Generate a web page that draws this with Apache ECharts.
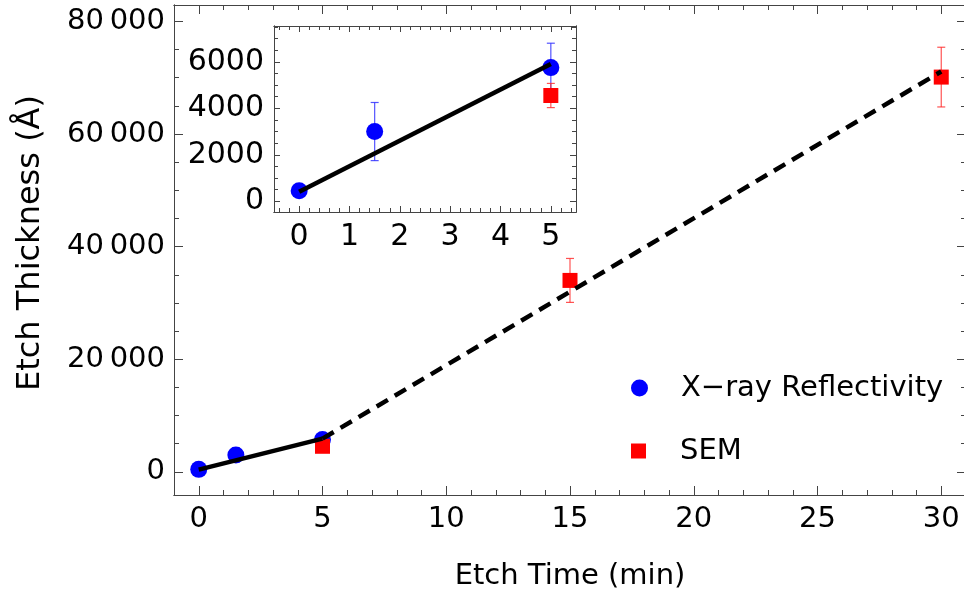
<!DOCTYPE html>
<html>
<head>
<meta charset="utf-8">
<script src="https://cdn.jsdelivr.net/npm/echarts@6.0.0/dist/echarts.min.js"></script>
<style>
html,body{margin:0;padding:0;background:#fff;}
#chart{width:964px;height:592px;}
</style>
</head>
<body>
<div id="chart"></div>
<script>
// ---- data ----
const xrayTime = [0, 1.5, 5];
const xrayThick = [450, 3000, 5750];
const xrayErr = [150, 1250, 1050];

const semTime = [5, 15, 30];
const semThick = [4550, 34000, 70100];
const semErr = [520, 3900, 5300];

const fitTime = [0, 5];
const fitThick = [410, 5910];
const extTime = [5, 30];
const extThick = [5910, 71100];

// ---- tick labels ----
const mainXTicks = [0, 5, 10, 15, 20, 25, 30];
const mainYTicks = [0, 20000, 40000, 60000, 80000];
const insetXTicks = [0, 1, 2, 3, 4, 5];
const insetYTicks = [0, 2000, 4000, 6000];

function minorTicks(lo, hi, step, majors) {
  const out = [];
  for (let v = lo; v <= hi + 1e-9; v += step) {
    const r = Math.round(v * 1000) / 1000;
    if (majors.indexOf(r) < 0) out.push(r);
  }
  return out;
}
const mainXMinor = minorTicks(-1, 31, 1, mainXTicks);
const mainYMinor = minorTicks(0, 80000, 5000, mainYTicks);
const insetXMinor = minorTicks(-0.4, 5.4, 0.2, insetXTicks);
const insetYMinor = minorTicks(0, 7500, 500, insetYTicks);

const FONT = 'DejaVu Sans';
const FS = 29;
const FRAME = '#444';

function fmtThousands(v) {
  const s = String(Math.round(v));
  if (s.length < 5) return s;
  return s.replace(/\B(?=(\d{3})+(?!\d))/g, '\u2009');
}

function pairs(xs, ys) { return xs.map((x, i) => [x, ys[i]]); }
function errData(xs, ys, es, maxX) {
  const out = [];
  xs.forEach((x, i) => { if (x <= maxX) out.push([x, ys[i] - es[i], ys[i] + es[i]]); });
  return out;
}

function makeAxes(gridIndex, min, max, majors, minors, posA, posB, majLen, minLen, labelMargin, labelSize, extra) {
  const base = {
    type: 'value', gridIndex: gridIndex, min: min, max: max,
    splitLine: { show: false },
    axisLine: { show: true, onZero: false, lineStyle: { color: FRAME, width: 1 } },
    axisPointer: { show: false }
  };
  const tick = (len, vals) => ({ show: true, inside: true, length: len, customValues: vals, lineStyle: { color: FRAME, width: 1 } });
  const axes = [];
  axes.push(Object.assign({}, base, {
    position: posA,
    axisTick: tick(majLen, majors),
    axisLabel: { show: true, customValues: majors, margin: labelMargin, color: '#000', fontFamily: FONT, fontSize: labelSize,
      formatter: fmtThousands }
  }, extra || {}));
  axes.push(Object.assign({}, base, { position: posA, axisTick: tick(minLen, minors), axisLabel: { show: false } }));
  axes.push(Object.assign({}, base, { position: posB, axisTick: tick(majLen, majors), axisLabel: { show: false } }));
  axes.push(Object.assign({}, base, { position: posB, axisTick: tick(minLen, minors), axisLabel: { show: false } }));
  return axes;
}

const xAxes = [].concat(
  makeAxes(0, -1, 31, mainXTicks, mainXMinor, 'bottom', 'top', 9, 5, 10, FS, {
    name: 'Etch Time (min)', nameLocation: 'middle', nameGap: 67,
    nameTextStyle: { color: '#000', fontFamily: FONT, fontSize: FS }
  }),
  makeAxes(1, -0.5, 5.5, insetXTicks, insetXMinor, 'bottom', 'top', 6, 4, 10, 30)
);
const yAxes = [].concat(
  makeAxes(0, -4100, 82900, mainYTicks, mainYMinor, 'left', 'right', 9, 5, 9, FS),
  makeAxes(1, -460, 7540, insetYTicks, insetYMinor, 'left', 'right', 6, 4, 10, 30)
);

function errSeries(name, xi, yi, data, color) {
  return {
    type: 'custom', name: name, xAxisIndex: xi, yAxisIndex: yi, clip: true,
    encode: { x: 0, y: [1, 2] }, data: data, silent: true,
    renderItem: function (params, api) {
      const x = api.value(0);
      const lo = api.coord([x, api.value(1)]);
      const hi = api.coord([x, api.value(2)]);
      const w = 4;
      const st = { stroke: color, lineWidth: 1.2 };
      return {
        type: 'group', children: [
          { type: 'line', shape: { x1: lo[0], y1: lo[1], x2: hi[0], y2: hi[1] }, style: st },
          { type: 'line', shape: { x1: lo[0] - w, y1: lo[1], x2: lo[0] + w, y2: lo[1] }, style: st },
          { type: 'line', shape: { x1: hi[0] - w, y1: hi[1], x2: hi[0] + w, y2: hi[1] }, style: st }
        ]
      };
    }
  };
}

const XRAY = 'X\u2212ray Reflectivity';
const SEM = 'SEM';
const BLUE = '#0000ff';
const RED = '#ff0000';
const SQUARE = 'path://M0 0H10V10H0Z';

function plotSeries(xi, yi, maxX, withExt) {
  const s = [];
  s.push(errSeries('xerr' + xi, xi, yi, errData(xrayTime, xrayThick, xrayErr, maxX), 'rgba(40,40,255,0.8)'));
  s.push(errSeries('serr' + xi, xi, yi, errData(semTime, semThick, semErr, maxX), 'rgba(255,40,40,0.8)'));
  s.push({ type: 'scatter', name: XRAY, xAxisIndex: xi, yAxisIndex: yi, symbol: 'circle', symbolSize: 17,
    itemStyle: { color: BLUE, opacity: 1 }, data: pairs(xrayTime, xrayThick), silent: true });
  s.push({ type: 'scatter', name: SEM, xAxisIndex: xi, yAxisIndex: yi, symbol: 'rect', symbolSize: 15,
    itemStyle: { color: RED, opacity: 1 }, data: pairs(semTime, semThick), silent: true });
  s.push({ type: 'line', name: 'fit' + xi, xAxisIndex: xi, yAxisIndex: yi, symbol: 'none', silent: true,
    lineStyle: { color: '#000', width: 4.5, cap: 'butt' }, data: pairs(fitTime, fitThick) });
  if (withExt) {
    s.push({ type: 'line', name: 'ext' + xi, xAxisIndex: xi, yAxisIndex: yi, symbol: 'none', silent: true,
      lineStyle: { color: '#000', width: 4.5, type: [13, 8] }, data: pairs(extTime, extThick) });
  }
  return s;
}

const series = [].concat(plotSeries(0, 0, 100, true), plotSeries(4, 4, 5.5, false));

const legendText = { color: '#000', fontFamily: FONT, fontSize: FS, lineHeight: 34, width: 265, overflow: 'none' };
const option = {
  animation: false,
  backgroundColor: '#fff',
  grid: [
    { left: 174, top: 5, width: 792, height: 490, outerBoundsMode: 'none', containLabel: false },
    { left: 274, top: 26, width: 302, height: 186, outerBoundsMode: 'none', containLabel: false,
      show: true, backgroundColor: '#fff', borderWidth: 0 }
  ],
  xAxis: xAxes,
  yAxis: yAxes,
  legend: [
    { data: [{ name: XRAY, icon: 'circle' }], left: 631, top: 371, itemWidth: 73, itemHeight: 17, padding: 0,
      selectedMode: false, textStyle: legendText },
    { data: [{ name: SEM, icon: SQUARE }], left: 631, top: 434, itemWidth: 73, itemHeight: 15, padding: 0,
      selectedMode: false, textStyle: legendText }
  ],
  graphic: [
    { type: 'text', x: 31, y: 243, rotation: Math.PI / 2, silent: true,
      style: { text: 'Etch Thickness (Å)', fill: '#000', font: '32px "DejaVu Sans"', align: 'center', verticalAlign: 'middle' } }
  ],
  series: series
};

const chart = echarts.init(document.getElementById('chart'), null, { renderer: 'canvas' });
chart.setOption(option);
</script>
</body>
</html>
